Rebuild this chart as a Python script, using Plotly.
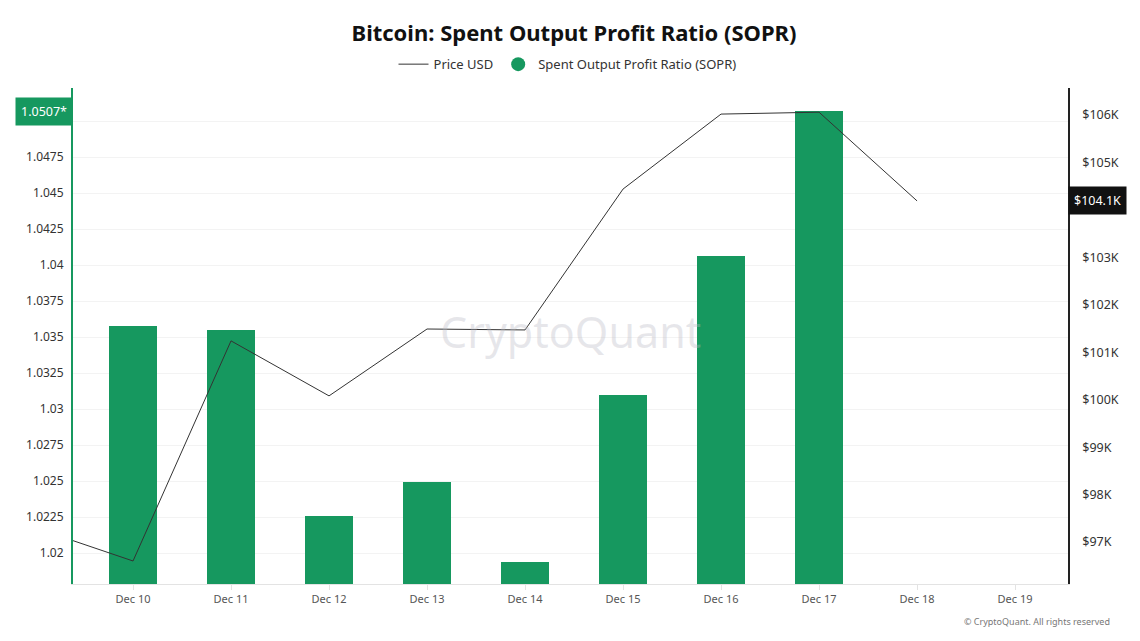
import plotly.graph_objects as go

# ---- data ----
bar_dates = ["2024-12-10", "2024-12-11", "2024-12-12", "2024-12-13",
             "2024-12-14", "2024-12-15", "2024-12-16", "2024-12-17"]
sopr = [1.0358, 1.0355, 1.02257, 1.02493, 1.01937, 1.03097, 1.04063, 1.0507]

price_dates = ["2024-12-09", "2024-12-10", "2024-12-11", "2024-12-12", "2024-12-13",
               "2024-12-14", "2024-12-15", "2024-12-16", "2024-12-17", "2024-12-18"]
price = [97300, 96600, 101240, 100080, 101490, 101470, 104440, 106020, 106060, 104190]

left_ticks = [1.02, 1.0225, 1.025, 1.0275, 1.03, 1.0325, 1.035, 1.0375,
              1.04, 1.0425, 1.045, 1.0475, 1.05]
left_labels = ["1.02", "1.0225", "1.025", "1.0275", "1.03", "1.0325", "1.035", "1.0375",
               "1.04", "1.0425", "1.045", "1.0475", "1.05"]
right_ticks = [97000, 98000, 99000, 100000, 101000, 102000, 103000, 104000, 105000, 106000]
right_labels = ["$97K", "$98K", "$99K", "$100K", "$101K", "$102K", "$103K", "", "$105K", "$106K"]

last_sopr_label = "1.0507*"
last_price_label = "$104.1K"

GREEN = "#16985F"
FONT = "Noto Sans"

fig = go.Figure()

fig.add_trace(go.Bar(
    x=bar_dates, y=sopr, marker=dict(color=GREEN, line=dict(width=0)),
    width=0.49 * 86400000, showlegend=False, name="Spent Output Profit Ratio (SOPR)",
    yaxis="y",
))
fig.add_trace(go.Scatter(
    x=price_dates, y=price, mode="lines", line=dict(color="#333333", width=1),
    name="Price USD", yaxis="y2",
))
# legend-only entry for the bar series (circle symbol)
fig.add_trace(go.Scatter(
    x=[None], y=[None], mode="markers", marker=dict(color=GREEN, size=14, symbol="circle"),
    name="Spent Output Profit Ratio (SOPR)", yaxis="y",
))

fig.update_layout(
    width=1140, height=641,
    margin=dict(l=65, r=80, t=80, b=65),
    paper_bgcolor="white", plot_bgcolor="white",
    font=dict(family=FONT, color="#333333", size=12),
    title=dict(text="<b>Bitcoin: Spent Output Profit Ratio (SOPR)</b>", x=0.4965, xanchor="center",
               y=0.961, yanchor="middle", font=dict(size=22, color="#111111", family=FONT)),
    legend=dict(orientation="h", x=0.497, xanchor="center", y=1.048, yanchor="middle",
                font=dict(size=13, color="#333333"), itemwidth=30, traceorder="normal",
                bgcolor="rgba(0,0,0,0)"),
    bargap=0,
    xaxis=dict(
        type="date", range=["2024-12-09 09:18", "2024-12-19 12:58"],
        tickformat="%b %d", dtick=86400000, tick0="2024-12-10",
        showgrid=False, showline=True, linecolor="#e3e3e3", linewidth=1,
        ticks="outside", ticklen=5, tickcolor="#e3e3e3",
        tickfont=dict(size=11, color="#555555"), zeroline=False,
    ),
    yaxis=dict(
        range=[1.01785, 1.0523], tickvals=left_ticks, ticktext=left_labels,
        showgrid=True, gridcolor="#f3f3f3", gridwidth=1,
        showline=True, linecolor=GREEN, linewidth=2, zeroline=False,
        ticks="", ticklabelstandoff=5, tickfont=dict(size=12, color="#333333"),
    ),
    yaxis2=dict(
        overlaying="y", side="right", range=[96115, 106570],
        tickvals=right_ticks, ticktext=right_labels, showgrid=False,
        showline=True, linecolor="#222222", linewidth=1.5, zeroline=False,
        ticks="", ticklabelstandoff=10, tickfont=dict(size=12.5, color="#333333"),
    ),
    annotations=[
        dict(text="CryptoQuant", xref="paper", yref="paper", x=0.5, y=0.51,
             showarrow=False, font=dict(size=43, color="rgba(185,185,195,0.35)", family=FONT)),
        dict(text=last_sopr_label, xref="paper", yref="y", x=0, y=sopr[-1], xanchor="right",
             yanchor="middle", showarrow=False, bgcolor=GREEN, borderpad=5,
             font=dict(size=12.5, color="white")),
        dict(text=last_price_label, xref="paper", yref="y2", x=1, y=price[-1], xanchor="left",
             yanchor="middle", showarrow=False, bgcolor="#111111", borderpad=5,
             font=dict(size=12.5, color="white")),
        dict(text="© CryptoQuant. All rights reserved", xref="paper", yref="paper",
             x=1.044, y=-0.0746, xanchor="right", yanchor="middle", showarrow=False,
             font=dict(size=9, color="#777777")),
    ],
)

fig.write_html("out.html")
